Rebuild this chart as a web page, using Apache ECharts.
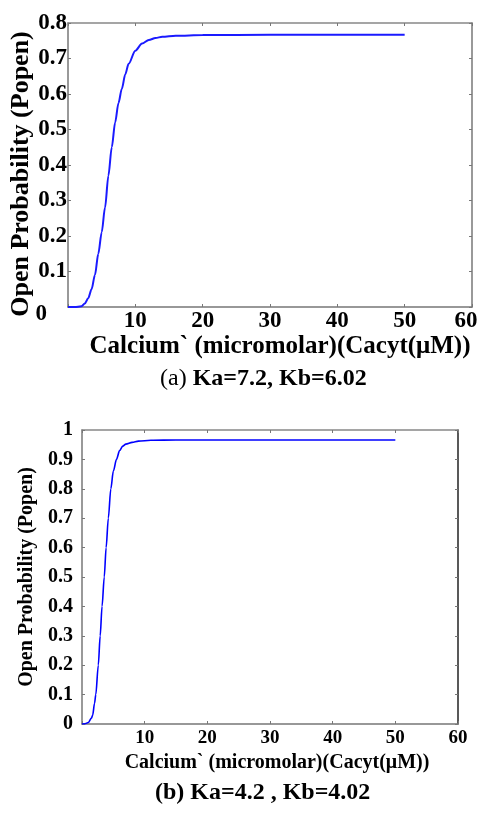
<!DOCTYPE html>
<html><head><meta charset="utf-8">
<script src="https://cdn.jsdelivr.net/npm/echarts@6/dist/echarts.min.js"></script>
<style>html,body{margin:0;padding:0;background:#fff}#c{width:480px;height:813px}</style>
</head><body><div id="c"></div>
<script>
// Calcium (µM) and open probability, chart (a) Ka=7.2, Kb=6.02
const caA = [0, 1, 2, 2.5, 3, 3.5, 4, 4.5, 5, 5.5, 6, 6.5, 7, 7.5, 8, 8.5, 9, 10, 11, 12, 13, 14, 16, 20, 30, 50];
const popenA = [0, 0, 0.002, 0.01, 0.025, 0.05, 0.09, 0.15, 0.21, 0.28, 0.37, 0.45, 0.52, 0.575, 0.615, 0.655, 0.685, 0.722, 0.742, 0.752, 0.758, 0.761, 0.764, 0.766, 0.767, 0.767];
// chart (b) Ka=4.2, Kb=4.02
const caB = [0, 0.5, 1, 1.5, 1.7, 2, 2.2, 2.6, 2.9, 3.2, 3.55, 3.85, 4.2, 4.6, 5, 5.5, 6, 6.5, 7, 8, 9, 11, 15, 50];
const popenB = [0, 0.001, 0.005, 0.02, 0.03, 0.07, 0.1, 0.2, 0.3, 0.4, 0.5, 0.6, 0.7, 0.8, 0.86, 0.9, 0.93, 0.945, 0.952, 0.958, 0.962, 0.965, 0.966, 0.966];
const xTicks = [0, 10, 20, 30, 40, 50, 60];
const yTicksA = [0, 0.1, 0.2, 0.3, 0.4, 0.5, 0.6, 0.7, 0.8];
const yTicksB = [0, 0.1, 0.2, 0.3, 0.4, 0.5, 0.6, 0.7, 0.8, 0.9, 1];
const xTitle = 'Calcium` (micromolar)(Cacyt(\u03bcM))';
const yTitle = 'Open Probability (Popen)';

const F = 'Liberation Serif';
const chart = echarts.init(document.getElementById('c'));
function pairs(xs, ys) { return xs.map((x, i) => [x, ys[i]]); }
const axisLine = c => ({ show: true, onZero: false, lineStyle: { color: c, width: 1.5 } });
function xMain(grid, fs, margin, nameGap, nameFs, namePad, lastPad) {
  return { type: 'value', gridIndex: grid, position: 'bottom', min: xTicks[0], max: xTicks[xTicks.length - 1], interval: 10,
    axisLine: axisLine('#777'), axisTick: { inside: true, length: 3, lineStyle: { color: '#777' } }, splitLine: { show: false },
    axisLabel: { color: '#000', fontFamily: F, fontWeight: 'bold', fontSize: fs, margin: margin,
      formatter: v => v === 0 ? '' : (v === 60 && lastPad ? '{e|60}' : String(v)),
      rich: { e: { fontFamily: F, fontWeight: 'bold', fontSize: fs, color: '#000', padding: lastPad || [0, 0, 0, 0] } } },
    name: xTitle, nameLocation: 'middle', nameGap: nameGap,
    nameTextStyle: { color: '#000', fontFamily: F, fontWeight: 'bold', fontSize: nameFs, padding: namePad } };
}
function xTop(grid) {
  return { type: 'value', gridIndex: grid, position: 'top', min: 0, max: 60, interval: 10,
    axisLine: axisLine('#888'), axisTick: { inside: true, length: 3, lineStyle: { color: '#777' } },
    axisLabel: { show: false }, splitLine: { show: false } };
}
function yMain(grid, ticks, fs, margin, nameGap, nameFs, namePad, zeroRich) {
  return { type: 'value', gridIndex: grid, position: 'left', min: 0, max: ticks[ticks.length - 1], interval: 0.1,
    axisLine: axisLine('#777'), axisTick: { inside: true, length: 3, lineStyle: { color: '#777' } }, splitLine: { show: false },
    axisLabel: { color: '#000', fontFamily: F, fontWeight: 'bold', fontSize: fs, margin: margin,
      formatter: v => { const s = String(Math.round(v * 10) / 10); return (v === 0 && zeroRich) ? '{z|0}' : s; },
      rich: { z: { fontFamily: F, fontWeight: 'bold', fontSize: fs, color: '#000', padding: zeroRich || [0, 0, 0, 0] } } },
    name: yTitle, nameLocation: 'middle', nameGap: nameGap, nameMoveOverlap: false,
    nameTextStyle: { color: '#000', fontFamily: F, fontWeight: 'bold', fontSize: nameFs, padding: namePad } };
}
function yRight(grid, max, c) {
  return { type: 'value', gridIndex: grid, position: 'right', min: 0, max: max, interval: 0.1,
    axisLine: axisLine(c), axisTick: { inside: true, length: 3, lineStyle: { color: '#777' } },
    axisLabel: { show: false }, splitLine: { show: false } };
}

chart.setOption({
  animation: false,
  grid: [
    { left: 68, top: 23, width: 404, height: 284, containLabel: false, outerBoundsMode: 'none' },
    { left: 82, top: 430, width: 376, height: 294, containLabel: false, outerBoundsMode: 'none' }
  ],
  xAxis: [
    xMain(0, 23, 3, 23, 25, [0, 0, 0, 20], [0, 12, 0, 0]), xTop(0),
    xMain(1, 19, 5, 29, 20, [0, 0, 0, 14], null), xTop(1)
  ],
  yAxis: [
    yMain(0, yTicksA, 23, 1, 34, 26, [0, 18, 0, 0], [14, 20, 0, 0]), yRight(0, 0.8, '#777'),
    yMain(1, yTicksB, 20, 9, 45, 20, [0, 0, 0, 0], null), yRight(1, 1, '#222')
  ],
  series: [
    { type: 'line', xAxisIndex: 0, yAxisIndex: 0, data: pairs(caA, popenA), smooth: 0.3, smoothMonotone: 'x', showSymbol: false,
      lineStyle: { color: '#1a1aff', width: 2 } },
    { type: 'line', xAxisIndex: 2, yAxisIndex: 2, data: pairs(caB, popenB), smooth: 0.3, smoothMonotone: 'x', showSymbol: false,
      lineStyle: { color: '#0000ff', width: 1.6 } }
  ],
  graphic: [
    { type: 'text', left: 160, top: 367, style: { text: '{n|(a) }{b|Ka=7.2, Kb=6.02}',
      rich: { n: { fontFamily: F, fontSize: 24, fill: '#000' }, b: { fontFamily: F, fontSize: 24, fontWeight: 'bold', fill: '#000' } } } },
    { type: 'text', left: 155, top: 781, style: { text: '(b) Ka=4.2 , Kb=4.02',
      fontFamily: F, fontSize: 24, fontWeight: 'bold', fill: '#000' } }
  ]
});
</script></body></html>
